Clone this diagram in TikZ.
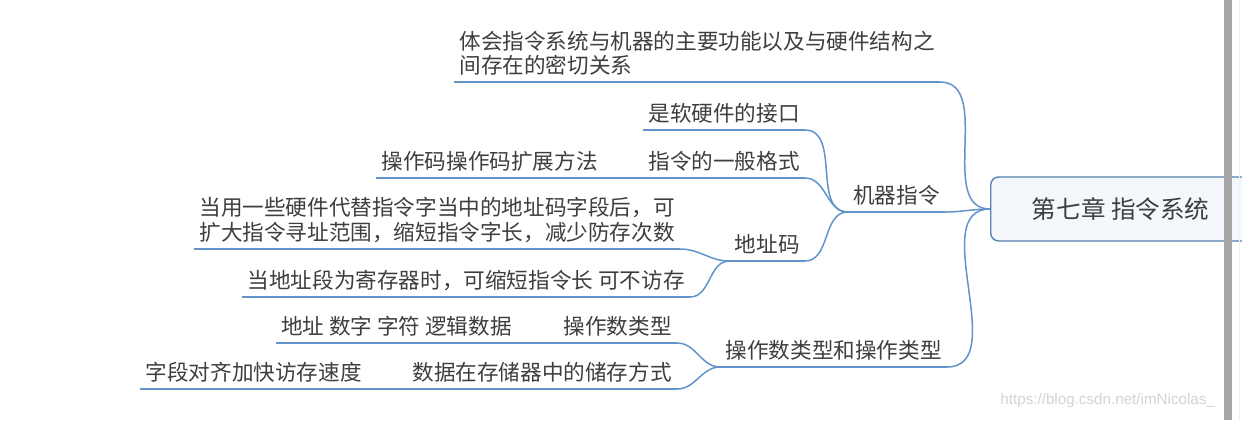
\documentclass[tikz,border=0pt]{standalone}
\usepackage{fontspec}
\setmainfont{Noto Sans CJK SC}
\newfontfamily\wmfont{Liberation Sans}
\definecolor{linkblue}{RGB}{98,148,202}
\definecolor{textgray}{RGB}{62,62,62}
\definecolor{rootline}{RGB}{84,130,178}
\definecolor{rootfill}{RGB}{244,247,251}
\definecolor{barGray}{RGB}{166,166,166}
\definecolor{wmgray}{RGB}{212,212,212}

\begin{document}
\begin{tikzpicture}[x=0.5pt, y=-0.5pt,
    topic/.style={font=\fontsize{10.8}{12.2}\selectfont, text=textgray, inner xsep=2.5pt, inner ysep=3pt, anchor=south east, align=left},
    rootbox/.style={draw=rootline, fill=rootfill, line width=0.7pt, rounded corners=4pt, minimum width=130pt, minimum height=32pt, font=\fontsize{12.3}{14}\selectfont, text=textgray, anchor=west},
    link/.style={draw=linkblue, line width=0.75pt},
    wmtext/.style={font=\wmfont\fontsize{7.6}{9}\selectfont, text=wmgray, anchor=west, inner sep=0pt}]
    % 画布
    \useasboundingbox (0,0) rectangle (1242,420);
    \fill[white] (0,0) rectangle (1242,420);
    \clip (0,0) rectangle (1242,420);

    % 根节点
    \node[rootbox] (root) at (990,209) {第七章 指令系统};

    % 一级分支
    \node[topic] (goal) at (940,82) {体会指令系统与机器的主要功能以及与硬件结构之\\间存在的密切关系};
    \node[topic] (instr) at (945,212) {机器指令};
    \node[topic] (optype) at (947,367) {操作数类型和操作类型};

    % 二级分支
    \node[topic] (iface) at (805,130) {是软硬件的接口};
    \node[topic] (format) at (805,178) {指令的一般格式};
    \node[topic] (addr) at (805,261) {地址码};
    \node[topic] (opnd) at (677,343) {操作数类型};
    \node[topic] (store) at (677,389) {数据在存储器中的储存方式};

    % 三级分支
    \node[topic] (opcode) at (603,178) {操作码操作码扩展方法};
    \node[topic] (addrA) at (680,249) {当用一些硬件代替指令字当中的地址码字段后，可\\扩大指令寻址范围，缩短指令字长，减少防存次数};
    \node[topic] (addrB) at (690,297) {当地址段为寄存器时，可缩短指令长 可不访存};
    \node[topic] (kinds) at (517,343) {地址 数字 字符 逻辑数据};
    \node[topic] (fieldalign) at (367,389) {字段对齐加快访存速度};

    % 下划线
    \foreach \n in {goal,instr,optype,iface,format,addr,opnd,store,opcode,addrA,addrB,kinds,fieldalign}
        \draw[link] (\n.south west) -- (\n.south east);

    % 连线
    \draw[link] (goal.south east) to[out=0,in=180] (root.west);
    \draw[link] (instr.south east) to[out=0,in=180] (root.west);
    \draw[link] (optype.south east) to[out=0,in=180] (root.west);
    \draw[link] (iface.south east) to[out=0,in=180] (instr.south west);
    \draw[link] (format.south east) to[out=0,in=180] (instr.south west);
    \draw[link] (addr.south east) to[out=0,in=180] (instr.south west);
    \draw[link] (opnd.south east) to[out=0,in=180] (optype.south west);
    \draw[link] (store.south east) to[out=0,in=180] (optype.south west);
    \draw[link] (opcode.south east) -- (format.south west);
    \draw[link] (addrA.south east) to[out=0,in=180] (addr.south west);
    \draw[link] (addrB.south east) to[out=0,in=180] (addr.south west);
    \draw[link] (kinds.south east) -- (opnd.south west);
    \draw[link] (fieldalign.south east) -- (store.south west);

    % 滚动条与水印
    \fill[barGray] (1224,0) rectangle (1232,420);
    \draw[gray!12, line width=0.5pt] (1239,0) -- (1239,420);
    \node[wmtext] (wm) at (1000,401) {https://blog.csdn.net/imNicolas\_};
\end{tikzpicture}
\end{document}
